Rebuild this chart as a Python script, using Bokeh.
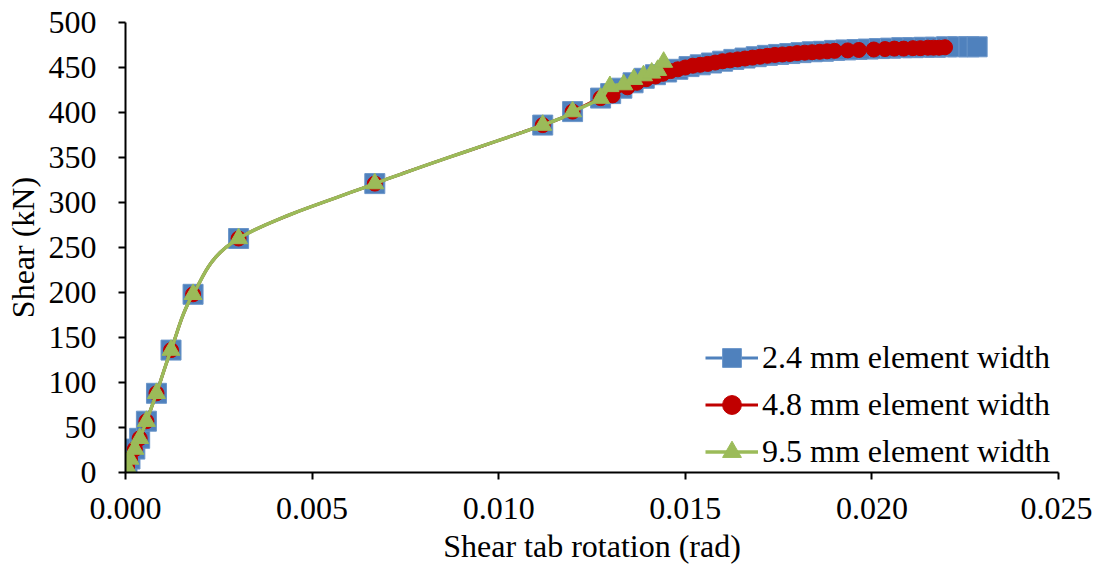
import numpy as np
from bokeh.plotting import figure
from bokeh.models import Range1d, FixedTicker, PrintfTickFormatter, Legend, LegendItem
from bokeh.embed import file_html
from bokeh.resources import INLINE

# ---------------- data ----------------
x_ticks = [0.000, 0.005, 0.010, 0.015, 0.020, 0.025]
y_ticks = [0, 50, 100, 150, 200, 250, 300, 350, 400, 450, 500]

labels = ["2.4 mm element width", "4.8 mm element width", "9.5 mm element width"]

rot_24 = [0.0, 0.00004, 0.00012, 0.00025, 0.00038, 0.00056, 0.00083, 0.00122, 0.00181,
          0.00303, 0.00668, 0.01118, 0.01198, 0.01273,
          0.01300, 0.01330, 0.01360, 0.01390, 0.01420, 0.01450, 0.01480, 0.01510,
          0.01540, 0.01570, 0.01600, 0.01630, 0.01660, 0.01690, 0.01720, 0.01750,
          0.01780, 0.01810, 0.01840, 0.01870, 0.01900, 0.01930, 0.01960, 0.01990,
          0.02020, 0.02050, 0.02080, 0.02110, 0.02140, 0.02170, 0.02200, 0.02230,
          0.02260, 0.02282]
shear_24 = [0, 6, 15, 26, 38, 57, 88, 136, 198,
            260, 321, 386, 401, 416,
            421, 427, 433, 438, 442, 445, 448, 451,
            453, 455, 457, 459, 460.5, 462, 463.5, 464.5,
            465.5, 466.5, 467.5, 468, 469, 469.5, 470, 470.5,
            471, 471.5, 472, 472, 472.5, 472.5, 473, 473,
            473, 473]

rot_48 = [0.0, 0.00004, 0.00012, 0.00025, 0.00038, 0.00056, 0.00083, 0.00122, 0.00181,
          0.00303, 0.00668, 0.01118, 0.01198, 0.01273,
          0.01305, 0.01345, 0.01370, 0.01395, 0.01420, 0.01440, 0.01460, 0.01480,
          0.01500, 0.01520, 0.01540, 0.01560, 0.01580, 0.01600, 0.01620, 0.01640,
          0.01660, 0.01680, 0.01700, 0.01720, 0.01740, 0.01760, 0.01780, 0.01800,
          0.01820, 0.01840, 0.01860, 0.01880, 0.01900, 0.01935, 0.01965, 0.02005,
          0.02035, 0.02060, 0.02085, 0.02110, 0.02130, 0.02150, 0.02165, 0.02180,
          0.02196]
shear_48 = [0, 6, 15, 26, 38, 57, 88, 136, 198,
            260, 321, 386, 401, 416,
            419, 428, 433, 437, 440, 443, 446, 448,
            450, 452, 453, 454, 455.5, 457, 458, 459,
            460, 461, 462, 463, 464, 464.5, 465, 466,
            466.5, 467, 467.5, 468, 468.5, 469, 469.5, 470,
            470.5, 471, 471, 471.5, 471.5, 472, 472, 472,
            472.5]

rot_95 = [0.0, 0.00004, 0.00012, 0.00025, 0.00038, 0.00056, 0.00083, 0.00122, 0.00181,
          0.00303, 0.00668, 0.01118, 0.01198, 0.01273,
          0.01298, 0.01335, 0.01362, 0.01388, 0.01410, 0.01426, 0.01442]
shear_95 = [0, 6, 15, 26, 38, 57, 88, 136, 198,
            260, 321, 386, 401, 416,
            429, 431, 437, 441, 444, 447, 456]

BLUE, RED, GREEN = "#4F81BD", "#C00000", "#9BBB59"
FONT = "Liberation Serif"
FS = "32px"


def smooth(xs, ys, steps=12):
    """Excel-style smoothed line (Bezier with 1/6 tangents) through the data points."""
    P = np.column_stack([xs, ys]).astype(float)
    n = len(P)
    out = []
    t = np.linspace(0, 1, steps, endpoint=False)[:, None]
    for i in range(n - 1):
        p0 = P[i - 1] if i > 0 else P[i]
        p1, p2 = P[i], P[i + 1]
        p3 = P[i + 2] if i + 2 < n else P[i + 1]
        c1 = p1 + (p2 - p0) / 6.0
        c2 = p2 - (p3 - p1) / 6.0
        seg = ((1 - t) ** 3) * p1 + 3 * ((1 - t) ** 2) * t * c1 + 3 * (1 - t) * t ** 2 * c2 + t ** 3 * p2
        out.append(seg)
    out.append(P[-1:])
    A = np.vstack(out)
    return A[:, 0], A[:, 1]


p = figure(width=1092, height=566, output_backend="svg", toolbar_location=None,
           x_range=Range1d(0, 0.025), y_range=Range1d(0, 500),
           min_border_left=125, min_border_right=34, min_border_top=22, min_border_bottom=94)
p.outline_line_color = None
p.xgrid.visible = False
p.ygrid.visible = False
p.background_fill_color = "white"
p.border_fill_color = "white"

for ax in (p.xaxis[0], p.yaxis[0]):
    ax.axis_line_width = 2
    ax.axis_line_color = "black"
    ax.major_tick_line_width = 2
    ax.major_tick_line_color = "black"
    ax.major_tick_in = 0
    ax.major_tick_out = 7
    ax.minor_tick_line_color = None
    ax.major_label_text_font = FONT
    ax.major_label_text_font_size = FS
    ax.major_label_text_color = "black"
    ax.axis_label_text_font = FONT
    ax.axis_label_text_font_size = FS
    ax.axis_label_text_font_style = "normal"
    ax.axis_label_text_color = "black"

p.xaxis.ticker = FixedTicker(ticks=x_ticks)
p.yaxis.ticker = FixedTicker(ticks=y_ticks)
p.xaxis.formatter = PrintfTickFormatter(format="%.3f")
p.yaxis.formatter = PrintfTickFormatter(format="%d")
p.xaxis.axis_label = "Shear tab rotation (rad)"
p.yaxis.axis_label = "Shear (kN)"
p.xaxis.major_label_standoff = 18
p.xaxis.axis_label_standoff = 6
p.yaxis.major_label_standoff = 22
p.yaxis.axis_label_standoff = 5

items = []
# 2.4 mm
sx, sy = smooth(rot_24, shear_24)
l1 = p.line(sx, sy, line_color=BLUE, line_width=3)
m1 = p.scatter(rot_24, shear_24, marker="square", size=20, fill_color=BLUE,
               line_color="#6A95C9", line_width=1)
items.append(LegendItem(label=labels[0], renderers=[l1, m1]))
# 4.8 mm
sx, sy = smooth(rot_48, shear_48)
l2 = p.line(sx, sy, line_color=RED, line_width=3)
m2 = p.scatter(rot_48, shear_48, marker="circle", size=15, fill_color=RED, line_color=RED)
items.append(LegendItem(label=labels[1], renderers=[l2, m2]))
# 9.5 mm
sx, sy = smooth(rot_95, shear_95)
l3 = p.line(sx, sy, line_color=GREEN, line_width=3.5)
m3 = p.scatter(rot_95, shear_95, marker="triangle", size=18, fill_color=GREEN, line_color=GREEN)
items.append(LegendItem(label=labels[2], renderers=[l3, m3]))

legend = Legend(items=items, location=(580, -3))
legend.background_fill_alpha = 0
legend.border_line_color = None
legend.padding = 0
legend.margin = 0
legend.spacing = 0
legend.glyph_width = 53
legend.glyph_height = 47
legend.label_height = 47
legend.label_standoff = 4
legend.label_text_font = FONT
legend.label_text_font_size = FS
legend.label_text_color = "black"
p.add_layout(legend)

open("out.html", "w").write(file_html(p, INLINE))
